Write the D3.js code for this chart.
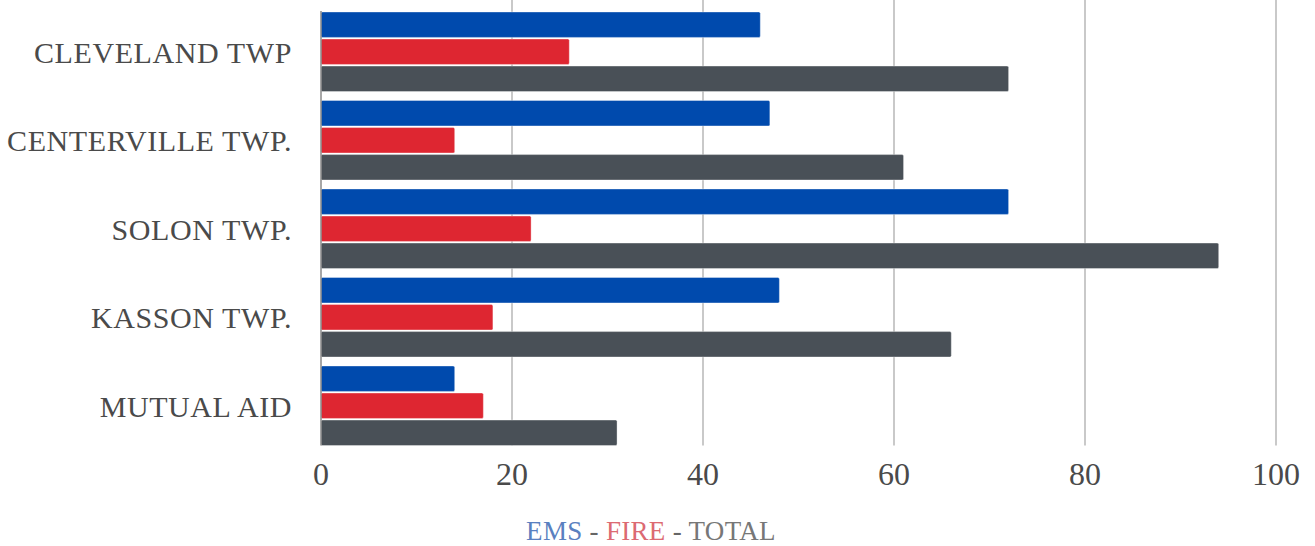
<!DOCTYPE html>
<html>
<head>
<meta charset="utf-8">
<script src="https://cdn.jsdelivr.net/npm/d3@7"></script>
<style>
  html, body { margin: 0; padding: 0; background: #fff; }
  svg { display: block; }
</style>
</head>
<body>
<svg id="chart" width="1315" height="546"></svg>
<script>
const categories = ["CLEVELAND TWP", "CENTERVILLE TWP.", "SOLON TWP.", "KASSON TWP.", "MUTUAL AID"];
const seriesNames = ["EMS", "FIRE", "TOTAL"];
const emsValues = [46, 47, 72, 48, 14];
const fireValues = [26, 14, 22, 18, 17];
const totalValues = [72, 61, 94, 66, 31];
const tickValues = [0, 20, 40, 60, 80, 100];

const seriesColors = { EMS: "#004aad", FIRE: "#de2631", TOTAL: "#495057" };
const legendColors = { EMS: "#5a80c0", FIRE: "#dc6a72", TOTAL: "#777777" };

const rows = categories.map((c, i) => ({
  category: c,
  values: [
    { key: "EMS", value: emsValues[i] },
    { key: "FIRE", value: fireValues[i] },
    { key: "TOTAL", value: totalValues[i] }
  ]
}));

const svg = d3.select("#chart");
const FONT = "'Liberation Serif', 'DejaVu Serif', serif";

const x = d3.scaleLinear().domain([0, 100]).range([321, 1276]);
const y0 = d3.scaleBand().domain(categories).range([12, 445.5]).paddingInner(0.1017).paddingOuter(0);
const y1 = d3.scaleBand().domain(seriesNames).range([0, y0.bandwidth()]).paddingInner(0.06);

// gridlines
svg.append("g").selectAll("line")
  .data(tickValues.filter(d => d > 0))
  .join("line")
  .attr("x1", d => x(d)).attr("x2", d => x(d))
  .attr("y1", 0).attr("y2", 445.5)
  .attr("stroke", "#c9c9c9").attr("stroke-width", 2);

// bars
const groups = svg.append("g").selectAll("g")
  .data(rows)
  .join("g")
  .attr("transform", d => `translate(0,${y0(d.category)})`);

groups.selectAll("rect")
  .data(d => d.values)
  .join("rect")
  .attr("x", x(0))
  .attr("y", d => y1(d.key))
  .attr("width", d => x(d.value) - x(0))
  .attr("height", y1.bandwidth())
  .attr("rx", 1.5)
  .attr("fill", d => seriesColors[d.key])
  .attr("stroke", "rgba(255,255,255,0.35)")
  .attr("stroke-width", 1);

// axis line
svg.append("line")
  .attr("x1", x(0)).attr("x2", x(0))
  .attr("y1", 11).attr("y2", 445.5)
  .attr("stroke", "#8a8a8a").attr("stroke-width", 1.5);

// x tick labels
svg.append("g").selectAll("text")
  .data(tickValues)
  .join("text")
  .attr("x", d => x(d))
  .attr("y", 485)
  .attr("text-anchor", "middle")
  .attr("font-family", FONT)
  .attr("font-size", 32)
  .attr("fill", "#4a4a4a")
  .text(d => d);

// category labels
svg.append("g").selectAll("text")
  .data(categories)
  .join("text")
  .attr("x", 292)
  .attr("y", d => y0(d) + y0.bandwidth() / 2 + 11)
  .attr("text-anchor", "end")
  .attr("font-family", FONT)
  .attr("font-size", 30)
  .attr("letter-spacing", 0.6)
  .attr("fill", "#4a4a4a")
  .text(d => d);

// legend
const legend = svg.append("text")
  .attr("x", 651)
  .attr("y", 540)
  .attr("text-anchor", "middle")
  .attr("font-family", FONT)
  .attr("font-size", 27)
  .attr("letter-spacing", 0.3);
seriesNames.forEach((s, i) => {
  if (i > 0) legend.append("tspan").attr("fill", "#666").text(" - ");
  legend.append("tspan").attr("fill", legendColors[s]).text(s);
});
</script>
</body>
</html>
